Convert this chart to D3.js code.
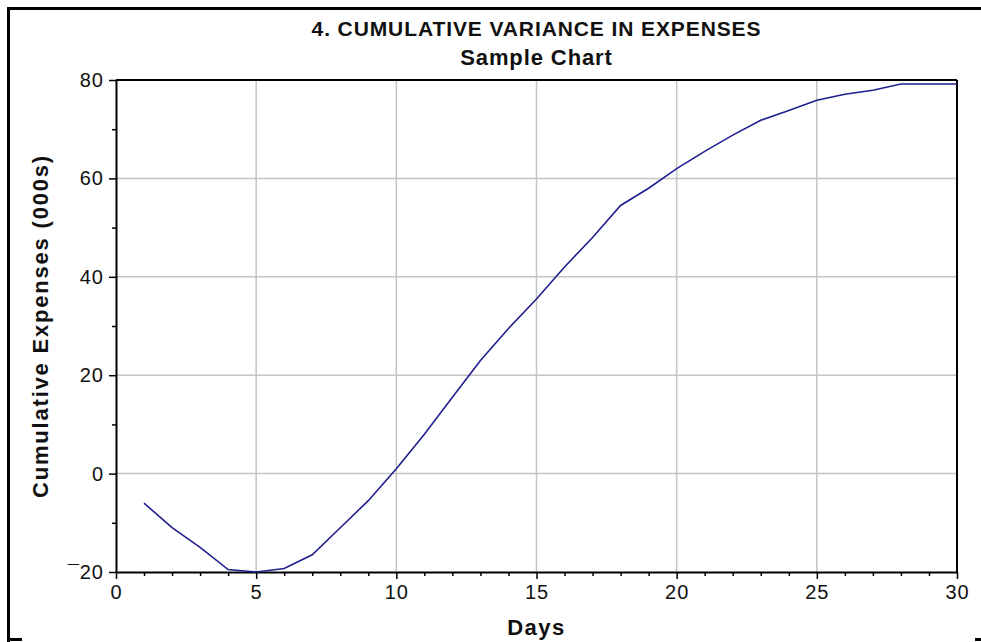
<!DOCTYPE html>
<html>
<head>
<meta charset="utf-8">
<script src="https://cdn.jsdelivr.net/npm/d3@7"></script>
<style>
  html, body { margin: 0; padding: 0; background: #fff; }
  svg { display: block; font-family: "Liberation Sans", Arial, sans-serif; }
</style>
</head>
<body>
<div id="chart"></div>
<script>
// Datos
const days = [1, 2, 3, 4, 5, 6, 7, 8, 9, 10, 11, 12, 13, 14, 15,
              16, 17, 18, 19, 20, 21, 22, 23, 24, 25, 26, 27, 28, 29, 30];
const cumulative = [-6, -11, -15, -19.5, -20, -19.3, -16.5, -11, -5.5, 1,
                    8, 15.5, 23, 29.5, 35.5, 42, 48, 54.5, 58, 62,
                    65.5, 68.8, 71.8, 73.8, 75.9, 77.1, 77.9, 79.2, 79.2, 79.2];
const xTicks = [0, 5, 10, 15, 20, 25, 30];
const yTicks = [-20, 0, 20, 40, 60, 80];
const title = '4. CUMULATIVE VARIANCE IN EXPENSES';
const subtitle = 'Sample Chart';

const W = 981, H = 642;
let margin = {top: 80, right: 24, bottom: 70, left: 116},
    width = W - margin.left - margin.right,
    height = H - margin.top - margin.bottom;

let svg = d3.select('#chart').append('svg')
    .attr('width', W)
    .attr('height', H);

//Marco exterior (recortado)
let frame = svg.append('g').attr('stroke', '#000').attr('stroke-width', 3);
frame.append('line').attr('x1', 7).attr('x2', W).attr('y1', 8.5).attr('y2', 8.5);
frame.append('line').attr('x1', 8.5).attr('x2', 8.5).attr('y1', 7).attr('y2', H);
frame.append('line').attr('x1', 7).attr('x2', 22).attr('y1', 639.5).attr('y2', 639.5);
frame.append('line').attr('x1', 975).attr('x2', W).attr('y1', 639.5).attr('y2', 639.5);

let g = svg.append('g')
    .attr('transform', 'translate(' + margin.left + ',' + margin.top + ')');

let x = d3.scaleLinear().domain([0, 30]).range([0, width]);
let y = d3.scaleLinear().domain([-20, 80]).range([height, 0]);

//Rejilla
g.append('g')
    .selectAll('line')
    .data(xTicks.slice(1, -1))
    .enter().append('line')
    .attr('x1', d => x(d)).attr('x2', d => x(d))
    .attr('y1', 0).attr('y2', height)
    .attr('stroke', '#c4c4c4').attr('stroke-width', 1.5);

g.append('g')
    .selectAll('line')
    .data(yTicks.slice(1, -1))
    .enter().append('line')
    .attr('x1', 0).attr('x2', width)
    .attr('y1', d => y(d)).attr('y2', d => y(d))
    .attr('stroke', '#c4c4c4').attr('stroke-width', 1.5);

//Ticks menores
g.append('g')
    .attr('transform', 'translate(0,' + height + ')')
    .call(d3.axisBottom(x).tickValues(d3.range(1, 30).filter(d => d % 5 !== 0)).tickSize(4).tickFormat(''))
    .call(a => a.select('.domain').remove())
    .call(a => a.selectAll('line').attr('stroke', '#000').attr('stroke-width', 1.5));

g.append('g')
    .call(d3.axisLeft(y).tickValues([-10, 10, 30, 50, 70]).tickSize(4).tickFormat(''))
    .call(a => a.select('.domain').remove())
    .call(a => a.selectAll('line').attr('stroke', '#000').attr('stroke-width', 1.5));

//Ejes principales
let xAxis = g.append('g')
    .attr('transform', 'translate(0,' + height + ')')
    .call(d3.axisBottom(x).tickValues(xTicks).tickSize(7).tickSizeOuter(0).tickPadding(6));

let yAxis = g.append('g')
    .call(d3.axisLeft(y).tickValues(yTicks).tickSize(7).tickSizeOuter(0).tickPadding(5)
        .tickFormat(d => d < 0 ? '\u00AF' + Math.abs(d) : d));

[xAxis, yAxis].forEach(a => {
    a.select('.domain').attr('stroke', '#000').attr('stroke-width', 2);
    a.selectAll('.tick line').attr('stroke', '#000').attr('stroke-width', 1.5);
    a.selectAll('.tick text')
        .attr('fill', '#111')
        .style('font-size', '20px')
        .style('letter-spacing', '1px')
        .style('font-family', '"Liberation Sans", Arial, sans-serif');
});

//Borde superior y derecho del área
g.append('line').attr('x1', 0).attr('x2', width).attr('y1', 0).attr('y2', 0)
    .attr('stroke', '#000').attr('stroke-width', 2);
g.append('line').attr('x1', width).attr('x2', width).attr('y1', 0).attr('y2', height)
    .attr('stroke', '#000').attr('stroke-width', 2);

//Línea
let line = d3.line()
    .x((d, i) => x(days[i]))
    .y(d => y(d));

g.append('path')
    .datum(cumulative)
    .attr('fill', 'none')
    .attr('stroke', '#1f1f8f')
    .attr('stroke-width', 1.6)
    .attr('d', line);

//Títulos
svg.append('text')
    .attr('x', margin.left + width / 2).attr('y', 36)
    .attr('text-anchor', 'middle')
    .style('font-size', '21px').style('font-weight', 'bold')
    .style('letter-spacing', '0.9px')
    .attr('fill', '#111')
    .text(title);

svg.append('text')
    .attr('x', margin.left + width / 2).attr('y', 65)
    .attr('text-anchor', 'middle')
    .style('font-size', '22px').style('font-weight', 'bold')
    .style('letter-spacing', '0.9px')
    .attr('fill', '#111')
    .text(subtitle);

svg.append('text')
    .attr('transform', 'translate(48,' + (margin.top + height / 2) + ') rotate(-90)')
    .attr('text-anchor', 'middle')
    .style('font-size', '22px').style('font-weight', 'bold')
    .style('letter-spacing', '1.8px')
    .attr('fill', '#111')
    .text('Cumulative Expenses (000s)');

svg.append('text')
    .attr('x', margin.left + width / 2).attr('y', 635)
    .attr('text-anchor', 'middle')
    .style('font-size', '22px').style('font-weight', 'bold')
    .style('letter-spacing', '1.5px')
    .attr('fill', '#111')
    .text('Days');
</script>
</body>
</html>
